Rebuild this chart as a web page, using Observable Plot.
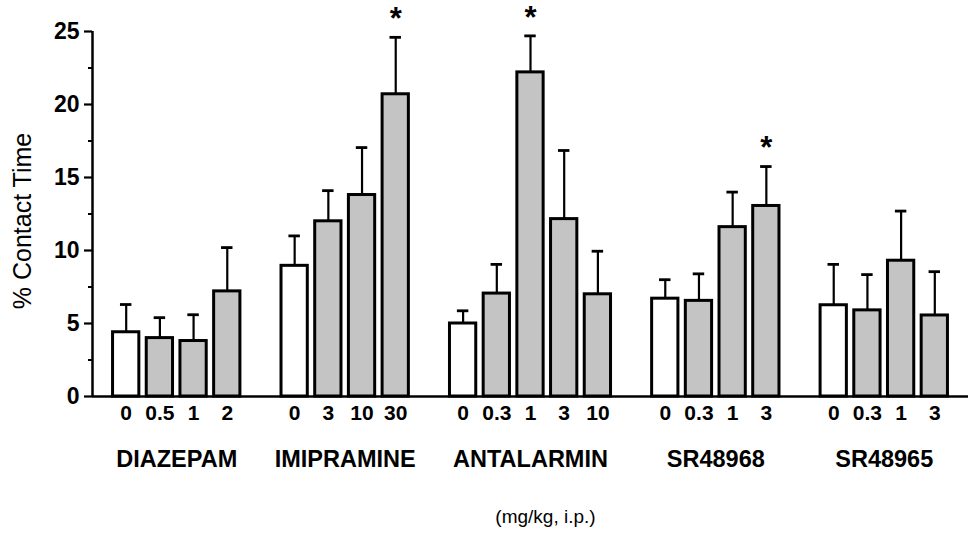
<!DOCTYPE html>
<html>
<head>
<meta charset="utf-8">
<script src="https://cdn.jsdelivr.net/npm/d3@7"></script>
<script src="https://cdn.jsdelivr.net/npm/@observablehq/plot@0.6"></script>
<style>
  html, body { margin: 0; padding: 0; background: white; }
  #chart svg { display: block; }
</style>
</head>
<body>
<div id="chart"></div>
<script>
// ---- data ----
const drugs = ["DIAZEPAM", "IMIPRAMINE", "ANTALARMIN", "SR48968", "SR48965"];
const doseLabels = [
  ["0", "0.5", "1", "2"],
  ["0", "3", "10", "30"],
  ["0", "0.3", "1", "3", "10"],
  ["0", "0.3", "1", "3"],
  ["0", "0.3", "1", "3"]
];
const meanValues = [
  [4.4, 4.0, 3.8, 7.2],
  [8.95, 12.0, 13.8, 20.7],
  [5.0, 7.05, 22.2, 12.15, 7.0],
  [6.7, 6.55, 11.6, 13.05],
  [6.25, 5.9, 9.3, 5.55]
];
const semValues = [
  [1.9, 1.4, 1.8, 3.0],
  [2.05, 2.1, 3.25, 3.9],
  [0.87, 2.0, 2.5, 4.7, 2.95],
  [1.3, 1.85, 2.4, 2.7],
  [2.8, 2.45, 3.4, 3.0]
];
const significant = [
  [0, 0, 0, 0],
  [0, 0, 0, 1],
  [0, 0, 1, 0, 0],
  [0, 0, 0, 1],
  [0, 0, 0, 0]
];
const yTicks = [0, 5, 10, 15, 20, 25];
const yMinorTicks = [2.5, 7.5, 12.5, 17.5, 22.5];
const yLabel = "% Contact Time";
const unitsLabel = "(mg/kg, i.p.)";

// ---- build table: one slot per bar, one empty slot between drugs ----
const rows = [];
const groups = [];
let slot = 0;
drugs.forEach((drug, g) => {
  const first = slot;
  doseLabels[g].forEach((dose, j) => {
    rows.push({
      drug, dose, slot,
      mean: meanValues[g][j],
      top: meanValues[g][j] + semValues[g][j],
      sig: significant[g][j] === 1,
      control: j === 0
    });
    slot++;
  });
  groups.push({drug, center: (first + slot - 1) / 2});
  slot++;
});
const lastSlot = slot - 2;
const xDomain = [-1, lastSlot + 1];
const doseBySlot = new Map(rows.map(d => [d.slot, d.dose]));

const half = 0.39, cap = 0.17;

const chart = Plot.plot({
  width: 976,
  height: 545,
  marginTop: 31,
  marginBottom: 149,
  marginLeft: 92,
  marginRight: 8,
  style: {fontFamily: "'Liberation Sans', Arial, Helvetica, sans-serif", color: "black", background: "white", overflow: "visible"},
  x: {domain: xDomain, axis: null},
  y: {domain: [0, 25], axis: null},
  color: {type: "identity"},
  marks: [
    Plot.rectY(rows, {
      x1: d => d.slot - half, x2: d => d.slot + half,
      y1: 0, y2: "mean",
      fill: d => d.control ? "white" : "#c4c4c4",
      stroke: "black", strokeWidth: 3
    }),
    Plot.ruleX(rows, {x: "slot", y1: "mean", y2: "top", stroke: "black", strokeWidth: 2.2}),
    Plot.ruleY(rows, {y: "top", x1: d => d.slot - cap, x2: d => d.slot + cap, stroke: "black", strokeWidth: 2.8}),
    Plot.text(rows.filter(d => d.sig), {x: "slot", y: "top", text: () => "*", dy: -18, fontSize: 31, fontWeight: "bold"}),
    Plot.ruleY([0], {stroke: "black", strokeWidth: 2.5}),
    Plot.ruleX([xDomain[0]], {stroke: "black", strokeWidth: 2.5}),
    Plot.axisY({ticks: yTicks, tickSize: 8, tickPadding: 5, fontSize: 23, fontWeight: "bold", strokeWidth: 2.2, label: null}),
    Plot.axisY({ticks: yMinorTicks, tickSize: 4, tickFormat: () => "", strokeWidth: 2, label: null}),
    Plot.axisX({ticks: rows.map(d => d.slot), tickFormat: s => doseBySlot.get(s), tickSize: 0, tickPadding: 9, fontSize: 21, fontWeight: "bold", label: null}),
    Plot.text(groups, {x: "center", text: "drug", frameAnchor: "bottom", dy: 70, fontSize: 23.5, fontWeight: "bold"}),
    Plot.text([unitsLabel], {frameAnchor: "bottom", dx: 15, dy: 126, fontSize: 19}),
    Plot.text([yLabel], {frameAnchor: "left", textAnchor: "middle", lineAnchor: "middle", rotate: -90, dx: -70, dy: 7, fontSize: 25})
  ]
});
document.getElementById("chart").appendChild(chart);
</script>
</body>
</html>
